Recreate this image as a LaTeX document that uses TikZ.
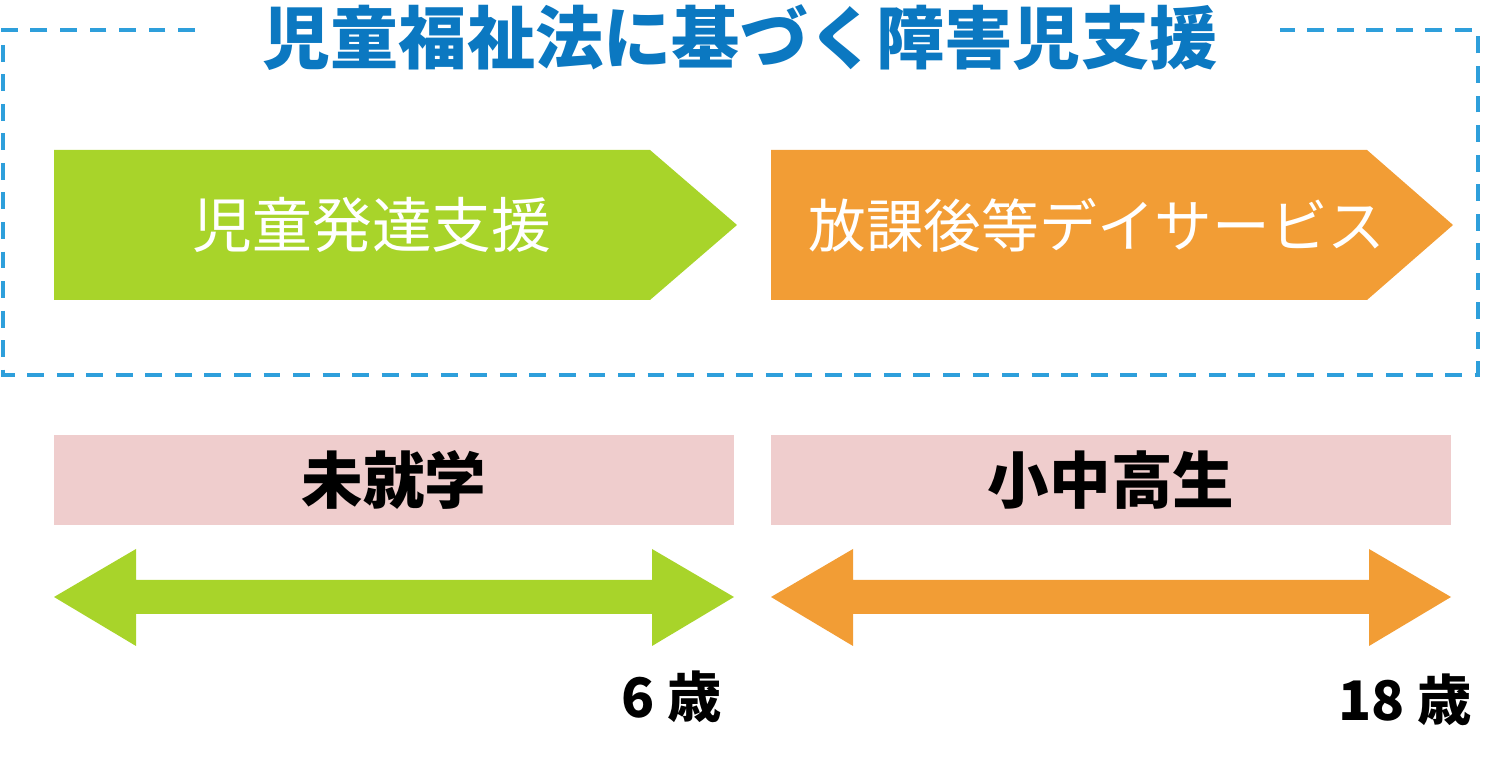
\documentclass[tikz,border=0pt]{standalone}
\usepackage{fontspec}
\setmainfont{Noto Sans CJK JP}
\usetikzlibrary{positioning}
\definecolor{titleblue}{HTML}{0B78C1}
\definecolor{dashblue}{HTML}{2E9FDB}
\definecolor{kidgreen}{HTML}{A8D42A}
\definecolor{kidorange}{HTML}{F29D35}
\definecolor{agepink}{HTML}{EFCDCD}
\begin{document}
\begin{tikzpicture}[
    x = 0.01cm,
    y = -0.01cm,
    frame/.style = {dashblue, line width = 1.4pt, dash pattern = on 4.8pt off 3.6pt},
    label/.style = {text = white},
    stage/.style = {fill = agepink, minimum width = 6.8cm, minimum height = 0.9cm,
      inner sep = 0pt, font = \bfseries\fontsize{17.5}{18}\selectfont},
    age/.style = {anchor = east, font = \bfseries\fontsize{15.5}{16}\selectfont}
  ]
  \useasboundingbox (0,0) rectangle (1485,777);

  % frame with title
  \node[text = titleblue, font = \bfseries\fontsize{19.4}{20}\selectfont] (title) at (740,38) {児童福祉法に基づく障害児支援};
  \draw[frame] (195,30) -- (3,30) -- (3,375) -- (1478,375) -- (1478,30) -- (1280,30);

  % service arrows
  \fill[kidgreen] (54,150) -- (650,150) -- (737,225) -- (650,300) -- (54,300) -- cycle;
  \node[label, font = \fontsize{17}{17}\selectfont] (hattatsu) at (372,225) {児童発達支援};
  \fill[kidorange] (771,150) -- (1367,150) -- (1453,225) -- (1367,300) -- (771,300) -- cycle;
  \node[label, font = \fontsize{16.4}{17}\selectfont] (houkago) at (1097,225) {放課後等デイサービス};

  % stages
  \node[stage] (mishugaku) at (394,480) {未就学};
  \node[stage] (shochuko) at (1111,480) {小中高生};

  % age ranges
  \fill[kidgreen] (54,597) -- (136,549) -- (136,580) -- (652,580) -- (652,549) -- (734,597)
    -- (652,646) -- (652,614) -- (136,614) -- (136,646) -- cycle;
  \fill[kidorange] (771,597) -- (853,549) -- (853,580) -- (1369,580) -- (1369,549) -- (1451,597)
    -- (1369,646) -- (1369,614) -- (853,614) -- (853,646) -- cycle;

  \node[age] (six) at (734,697) {6 歳};
  \node[age] (eighteen) at (1484,700) {18 歳};
\end{tikzpicture}
\end{document}
